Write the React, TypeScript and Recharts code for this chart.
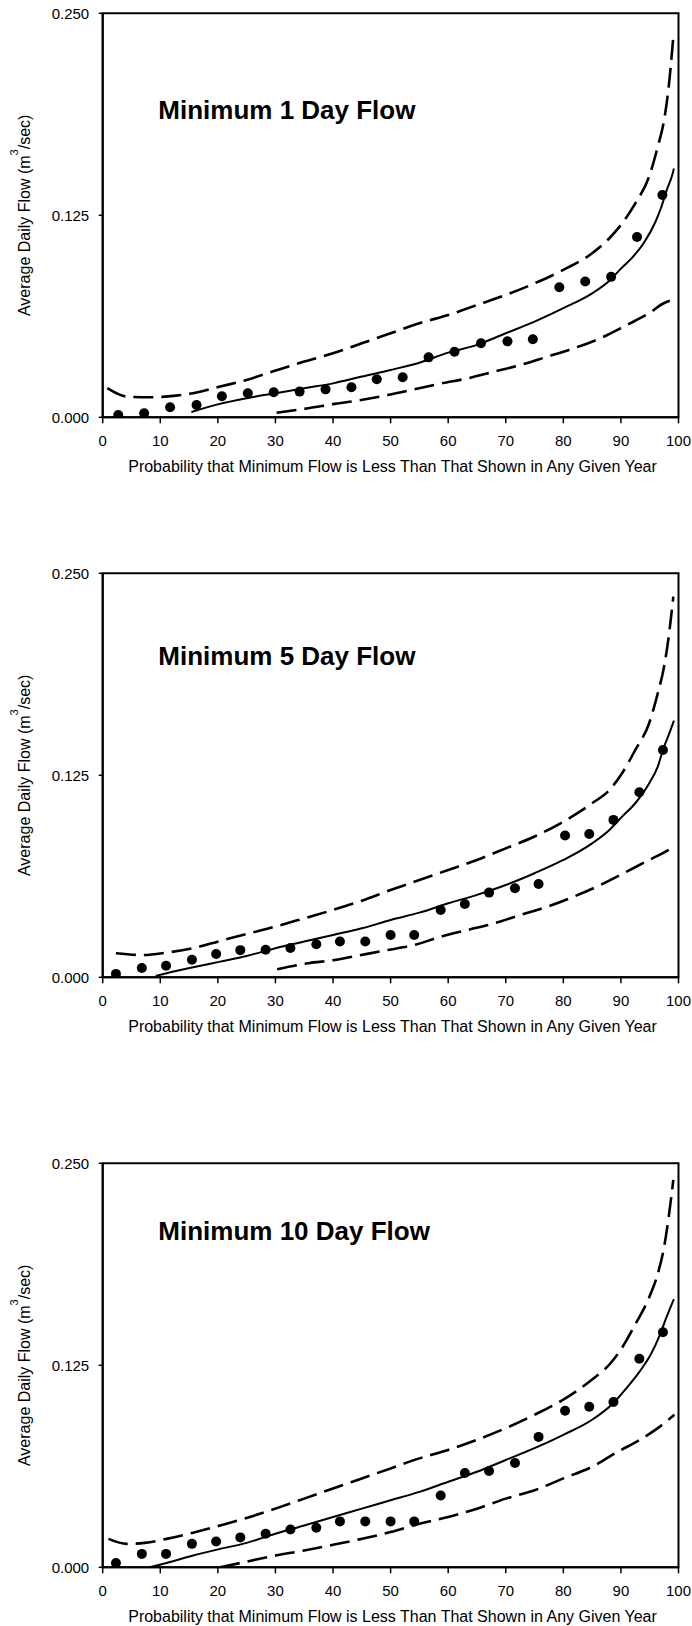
import React from 'react';
import { ComposedChart, Line, Scatter, XAxis, YAxis, ReferenceArea } from 'recharts';

const FONT = '"Liberation Sans", Arial, Helvetica, sans-serif';

// axis ticks
const probTicks = [0, 10, 20, 30, 40, 50, 60, 70, 80, 90, 100];
const flowTicks = [0, 0.125, 0.25];

// ---- Minimum 1 Day Flow ----
const obsProb1 = [2.7, 7.2, 11.7, 16.3, 20.7, 25.2, 29.7, 34.2, 38.7, 43.2, 47.6, 52.1, 56.6, 61.1, 65.7, 70.3, 74.7, 79.3, 83.8, 88.3, 92.8, 97.2];
const obsFlow1 = [0.0014, 0.0025, 0.0062, 0.0076, 0.013, 0.0149, 0.0155, 0.0159, 0.0173, 0.0186, 0.0235, 0.0248, 0.0371, 0.0406, 0.0458, 0.047, 0.0483, 0.0805, 0.084, 0.0869, 0.1116, 0.1376];
const fitProb1 = [15.4, 20, 25, 30, 35, 40, 45, 50, 55, 60, 65, 70, 75, 80, 85, 88, 90, 92, 94, 96, 97, 98, 99, 99.2];
const fitFlow1 = [0.0033, 0.008, 0.0118, 0.0149, 0.018, 0.021, 0.0252, 0.0293, 0.0338, 0.04, 0.0448, 0.052, 0.0592, 0.0675, 0.0767, 0.0845, 0.092, 0.099, 0.108, 0.121, 0.13, 0.141, 0.151, 0.154];
const upProb1 = [0.8, 4.2, 8.1, 12.7, 15.7, 20.4, 25, 30, 35, 40, 45, 50, 55, 60, 65, 70, 75, 80, 85, 88, 90.2, 92.5, 94.9, 96.4, 97.5, 98.3, 99.1];
const upFlow1 = [0.018, 0.0128, 0.0124, 0.0134, 0.0149, 0.019, 0.0231, 0.0289, 0.0345, 0.0396, 0.0458, 0.052, 0.0582, 0.0633, 0.0695, 0.0757, 0.0829, 0.0912, 0.1015, 0.1108, 0.12, 0.1324, 0.149, 0.1675, 0.184, 0.2046, 0.2356];
const lowProb1 = [30.2, 35.7, 40.3, 44.9, 49.5, 54.1, 58.8, 63.4, 68, 72.6, 77.2, 81.8, 86.4, 91, 94.9, 97.2, 99.3];
const lowFlow1 = [0.0028, 0.0056, 0.0083, 0.0107, 0.0138, 0.0173, 0.021, 0.0241, 0.0283, 0.0324, 0.0375, 0.0427, 0.0489, 0.0571, 0.0644, 0.0701, 0.073];

// ---- Minimum 5 Day Flow ----
const obsProb2 = [2.3, 6.8, 11.0, 15.5, 19.7, 23.9, 28.3, 32.6, 37.1, 41.2, 45.6, 50.0, 54.1, 58.7, 62.9, 67.1, 71.6, 75.7, 80.3, 84.5, 88.7, 93.2, 97.3];
const obsFlow2 = [0.0021, 0.0058, 0.0072, 0.0109, 0.0144, 0.0168, 0.0171, 0.0181, 0.0204, 0.0221, 0.0221, 0.0262, 0.0262, 0.0417, 0.0454, 0.0524, 0.0551, 0.0577, 0.0877, 0.0887, 0.0974, 0.1145, 0.1407];
const fitProb2 = [9.2, 11.1, 15.7, 20.4, 25, 30, 35, 40, 45, 50, 55, 60, 65, 70, 75, 80, 85, 88, 90.2, 92.5, 94.9, 96.4, 97.5, 98.3, 99.2];
const fitFlow2 = [0.0008, 0.0025, 0.0062, 0.0097, 0.0132, 0.018, 0.0221, 0.0262, 0.0303, 0.0355, 0.04, 0.0458, 0.051, 0.0571, 0.0644, 0.0726, 0.0829, 0.0912, 0.0994, 0.1077, 0.12, 0.1304, 0.1428, 0.15, 0.1588];
const upProb2 = [2.3, 6.9, 11.1, 15.7, 20.4, 25, 30, 35, 40, 45, 50, 55, 60, 65, 70, 75, 80, 85, 88, 90.2, 92.5, 94.9, 96.4, 97.5, 98.3, 99.1];
const upFlow2 = [0.0149, 0.0138, 0.0153, 0.018, 0.0225, 0.0268, 0.0314, 0.0365, 0.0417, 0.0474, 0.054, 0.0602, 0.0664, 0.0726, 0.0798, 0.0871, 0.0963, 0.1077, 0.1159, 0.1263, 0.1407, 0.1572, 0.1758, 0.1923, 0.2108, 0.2356];
const lowProb2 = [30.3, 35.7, 40.3, 44.9, 49.5, 54.1, 58.8, 63.4, 68, 72.6, 77.2, 81.8, 86.4, 91, 94.9, 97.2, 99.3];
const lowFlow2 = [0.005, 0.0087, 0.0107, 0.0138, 0.0169, 0.02, 0.0252, 0.0293, 0.0334, 0.0386, 0.0437, 0.0499, 0.0571, 0.0654, 0.0726, 0.0767, 0.0809];

// ---- Minimum 10 Day Flow ----
const obsProb3 = [2.3, 6.8, 11.0, 15.5, 19.7, 23.9, 28.3, 32.6, 37.1, 41.2, 45.6, 50.0, 54.1, 58.7, 62.9, 67.1, 71.6, 75.7, 80.3, 84.5, 88.7, 93.2, 97.3];
const obsFlow3 = [0.0027, 0.0083, 0.0083, 0.0145, 0.016, 0.0185, 0.0208, 0.0234, 0.0245, 0.0284, 0.0284, 0.0284, 0.0284, 0.0444, 0.0583, 0.0596, 0.0645, 0.0807, 0.0969, 0.0994, 0.1023, 0.129, 0.1455];
const fitProb3 = [8.1, 11.1, 15.7, 20.4, 25, 30, 35, 40, 45, 50, 55, 60, 65, 70, 75, 80, 85, 88.7, 91, 93.3, 95.2, 96.8, 97.9, 99.2];
const fitFlow3 = [0, 0.0027, 0.0073, 0.0114, 0.0151, 0.0208, 0.0259, 0.0311, 0.0363, 0.0415, 0.0467, 0.0529, 0.0591, 0.0664, 0.0737, 0.082, 0.0913, 0.1017, 0.111, 0.1214, 0.1318, 0.1442, 0.1546, 0.166];
const upProb3 = [1.0, 4.2, 7.3, 11.1, 15.7, 20.4, 25, 30, 35, 40, 45, 50, 55, 60, 65, 70, 75, 80, 85, 88, 90.2, 92.5, 94.9, 96.4, 97.5, 98.3, 99.1];
const upFlow3 = [0.0176, 0.0145, 0.0151, 0.0176, 0.0214, 0.0259, 0.0305, 0.0363, 0.0425, 0.0488, 0.055, 0.0612, 0.0674, 0.0726, 0.0789, 0.0861, 0.0944, 0.1038, 0.1162, 0.1255, 0.1359, 0.1504, 0.167, 0.1816, 0.1982, 0.2168, 0.2397];
const lowProb3 = [20.4, 25, 30, 35, 40, 45, 50, 55, 60, 65, 70, 75, 80, 85, 89.5, 93.3, 96.4, 99.3];
const lowFlow3 = [0, 0.0035, 0.0073, 0.0104, 0.0139, 0.0176, 0.0218, 0.027, 0.0311, 0.0363, 0.0425, 0.0477, 0.055, 0.0622, 0.0716, 0.0789, 0.0861, 0.0944];

const zip = (xs: number[], ys: number[]) => xs.map((x, i) => ({ x, y: ys[i] }));

const W = 692;
const H = 476;
const TOP = 13.3;
const PLOT_H = 404;
const LEFT = 102.7;
const RIGHT = 13.5;

const Dot = (props: any) => <circle cx={props.cx} cy={props.cy} r={5} fill="#000" />;

interface FlowChartProps {
  top: number;
  title: string;
  titleY: number;
  obs: { x: number; y: number }[];
  fit: { x: number; y: number }[];
  upper: { x: number; y: number }[];
  lower: { x: number; y: number }[];
}

const FlowChart: React.FC<FlowChartProps> = ({ top, title, titleY, obs, fit, upper, lower }) => {
  const midY = TOP + PLOT_H / 2;
  const axisY = TOP + PLOT_H;
  return (
    <div style={{ position: 'absolute', left: 0, top, width: W, height: H }}>
      <ComposedChart width={W} height={H} margin={{ top: TOP, right: RIGHT, left: 0, bottom: 0 }}>
        <XAxis
          type="number"
          dataKey="x"
          domain={[0, 100]}
          ticks={probTicks}
          allowDataOverflow
          height={H - TOP - PLOT_H}
          axisLine={{ stroke: '#000', strokeWidth: 2 }}
          tickLine={{ stroke: '#000', strokeWidth: 1.5 }}
          tickSize={6}
          tickMargin={12.5}
          tick={{ fill: '#000', fontSize: 15, fontFamily: FONT }}
        />
        <YAxis
          type="number"
          domain={[0, 0.25]}
          ticks={flowTicks}
          allowDataOverflow
          width={LEFT}
          axisLine={{ stroke: '#000', strokeWidth: 2 }}
          tickLine={{ stroke: '#000', strokeWidth: 1.5 }}
          tickSize={4}
          tickMargin={9.5}
          tickFormatter={(v: number) => v.toFixed(3)}
          tick={{ fill: '#000', fontSize: 15, fontFamily: FONT }}
        />
        <ReferenceArea x1={0} x2={100} y1={0} y2={0.25} fill="none" stroke="#000" strokeWidth={2} ifOverflow="visible" />
        <Line data={upper} dataKey="y" type="monotone" dot={false} stroke="#000" strokeWidth={2.6} strokeDasharray="20 8" isAnimationActive={false} />
        <Line data={lower} dataKey="y" type="monotone" dot={false} stroke="#000" strokeWidth={2.6} strokeDasharray="20 8" isAnimationActive={false} />
        <Line data={fit} dataKey="y" type="monotone" dot={false} stroke="#000" strokeWidth={2} isAnimationActive={false} />
        <Scatter data={obs} dataKey="y" shape={Dot} isAnimationActive={false} />
      </ComposedChart>
      <svg width={W} height={H} style={{ position: 'absolute', left: 0, top: 0, pointerEvents: 'none' }}>
        <text x={158.3} y={titleY} fontFamily={FONT} fontSize={26} fontWeight="bold" fill="#000">
          {title}
        </text>
        <text
          x={30}
          y={midY}
          transform={`rotate(-90 30 ${midY})`}
          textAnchor="middle"
          fontFamily={FONT}
          fontSize={16}
          fill="#000"
        >
          Average Daily Flow (m
          <tspan fontSize={11} dy={-12}>3</tspan>
          <tspan dy={12}>/sec)</tspan>
        </text>
        <text x={392.5} y={axisY + 54.5} textAnchor="middle" fontFamily={FONT} fontSize={16} fill="#000">
          Probability that Minimum Flow is Less Than That Shown in Any Given Year
        </text>
      </svg>
    </div>
  );
};

export default function App() {
  return (
    <div style={{ position: 'absolute', left: 0, top: 0, width: W, height: 1626, background: '#fff' }}>
      <FlowChart
        top={0}
        title="Minimum 1 Day Flow"
        titleY={119}
        obs={zip(obsProb1, obsFlow1)}
        fit={zip(fitProb1, fitFlow1)}
        upper={zip(upProb1, upFlow1)}
        lower={zip(lowProb1, lowFlow1)}
      />
      <FlowChart
        top={560}
        title="Minimum 5 Day Flow"
        titleY={105}
        obs={zip(obsProb2, obsFlow2)}
        fit={zip(fitProb2, fitFlow2)}
        upper={zip(upProb2, upFlow2)}
        lower={zip(lowProb2, lowFlow2)}
      />
      <FlowChart
        top={1150}
        title="Minimum 10 Day Flow"
        titleY={90}
        obs={zip(obsProb3, obsFlow3)}
        fit={zip(fitProb3, fitFlow3)}
        upper={zip(upProb3, upFlow3)}
        lower={zip(lowProb3, lowFlow3)}
      />
    </div>
  );
}
